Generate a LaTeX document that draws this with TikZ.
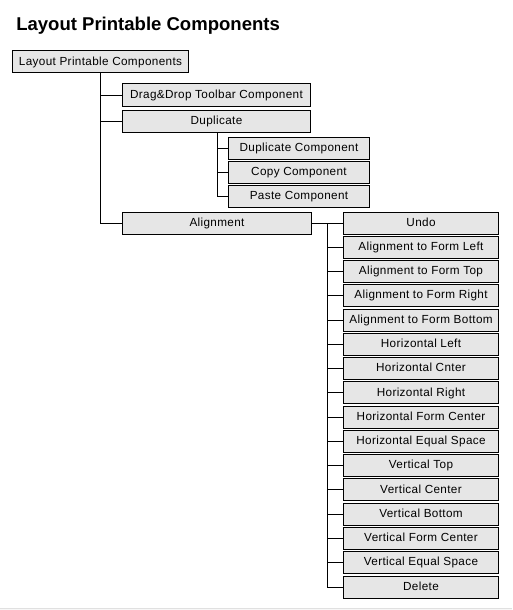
\documentclass[tikz,border=0pt]{standalone}
\usepackage{fontspec}
\setmainfont{Liberation Sans}
\newfontfamily\boxfont[LetterSpace=3]{Liberation Sans}
\begin{document}
\begin{tikzpicture}[x=0.75pt,y=-0.75pt,
  box/.style={draw=black,fill=boxgray,line width=0.75pt,minimum height=16.5pt,inner sep=0pt,text height=6.4pt,text depth=1.7pt,font=\boxfont\fontsize{8.8pt}{10pt}\selectfont,anchor=west},
  link/.style={draw=black,line width=0.75pt}]
\definecolor{boxgray}{HTML}{E6E6E6}
\useasboundingbox (0,0) rectangle (512,610);
\fill[white] (0,0) rectangle (512,610);
\fill[black!3] (0,608) rectangle (512,610);
\draw[black!12,line width=0.75pt] (0,608) -- (512,608);
\node[anchor=west,font=\bfseries\fontsize{13.9pt}{16pt}\selectfont,inner sep=0pt] (title) at (16,26) {Layout Printable Components};
% root
\node[box,minimum width=132pt] (root) at (12,62) {Layout Printable Components};
% level 1
\node[box,minimum width=141pt] (drag) at (122,95) {Drag\&Drop Toolbar Component};
\node[box,minimum width=141pt] (dup) at (122,121) {Duplicate};
\node[box,minimum width=141.75pt] (align) at (122,223) {Alignment};
% duplicate children
\node[box,minimum width=105.75pt] (dupc) at (228,148) {Duplicate Component};
\node[box,minimum width=105.75pt] (copy) at (228,172) {Copy Component};
\node[box,minimum width=105.75pt] (paste) at (228,196) {Paste Component};
% alignment children
\foreach \i/\t in {0/Undo,1/Alignment to Form Left,2/Alignment to Form Top,3/Alignment to Form Right,4/Alignment to Form Bottom,5/Horizontal Left,6/Horizontal Cnter,7/Horizontal Right,8/Horizontal Form Center,9/Horizontal Equal Space,10/Vertical Top,11/Vertical Center,12/Vertical Bottom,13/Vertical Form Center,14/Vertical Equal Space,15/Delete}{
  \node[box,minimum width=116.25pt] (a\i) at (343,223+24.27*\i) {\t};
}
% trunk from root
\coordinate (t0) at (100,73);
\draw[link] (t0) |- (align.west);
\draw[link] (100,95) -- (drag.west);
\draw[link] (100,121) -- (dup.west);
% duplicate trunk
\coordinate (d0) at (217,132);
\draw[link] (d0) |- (paste.west);
\draw[link] (217,148) -- (dupc.west);
\draw[link] (217,172) -- (copy.west);
% alignment trunk
\draw[link] (align.east) -- (a0.west);
\draw[link] (327,223) |- (a15.west);
\foreach \i in {1,...,14}{
  \draw[link] (327,223+24.27*\i) -- (a\i.west);
}
\end{tikzpicture}
\end{document}
